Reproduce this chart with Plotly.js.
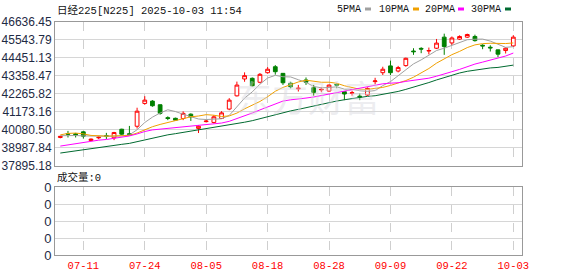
<!DOCTYPE html>
<html><head><meta charset="utf-8">
<script src="https://cdn.plot.ly/plotly-3.0.1.min.js"></script>
<style>html,body{margin:0;padding:0;background:#fff;} #chart{width:578px;height:276px;}</style>
</head><body><div id="chart"></div>
<script>
// ---- data ----
const dates = ['07-08','07-09','07-10','07-11','07-14','07-15','07-16','07-17','07-18','07-22','07-23','07-24','07-25','07-28','07-29','07-30','07-31',
 '08-01','08-04','08-05','08-06','08-07','08-08','08-12','08-13','08-14','08-15','08-18','08-19','08-20','08-21','08-22','08-25','08-26','08-27','08-28','08-29',
 '09-01','09-02','09-03','09-04','09-05','09-08','09-09','09-10','09-11','09-12','09-16','09-17','09-18','09-19','09-22','09-24','09-25','09-26','09-29','09-30',
 '10-01','10-02','10-03'];
const openV  = [39620,39860,39840,39960,39440,39600,39730,39600,40120,39850,40300,41680,41820,41600,40820,40780,40770,
 41030,40170,40580,40530,40770,41340,42140,43160,43200,42960,43540,43900,43500,42900,42560,43100,42630,42500,42430,42830,
 42390,42300,42120,42190,43000,43540,43950,43640,43970,44850,45010,44850,45020,45690,45340,45570,45690,45730,45200,45080,
 44920,44880,45160];
const highV  = [39720,40020,39900,40000,39560,39700,39900,39960,40150,40320,41420,42120,41880,41620,40900,40820,41200,
 41080,40360,40680,40970,41210,42000,43000,43560,43250,43520,43880,44000,43520,42990,42800,43250,42800,42670,42820,42900,
 42400,42450,42280,42650,43230,43900,44270,43950,44450,45020,45080,45060,45580,45900,45730,45800,45900,45840,45260,45200,
 44930,45070,45810];
const lowV   = [39570,39620,39620,39560,39400,39520,39530,39460,39780,39760,40160,41600,41480,41000,40670,40640,40670,
 40620,39890,40530,40470,40740,41270,42100,42990,42700,42900,43480,43420,42800,42590,42400,42800,42150,42360,42400,42600,
 41880,42150,41880,42150,42830,43400,43400,43560,43900,44620,44720,44650,44970,44620,45220,45520,45640,45420,44960,44820,
 44480,44700,45100];
const closeV = [39690,39820,39780,39700,39520,39630,39700,39920,39820,39800,41210,41880,41540,41080,40770,40670,41080,
 40870,40300,40610,40870,41110,41880,42790,43360,42750,43440,43750,43600,42930,42690,42600,42960,42350,42530,42790,42790,
 42250,42330,42080,42590,43040,43750,43540,43850,44410,44810,44970,44880,45330,45120,45640,45730,45850,45480,45160,45040,
 44660,45020,45690];
// closes before the first visible bar (needed for the moving averages at the left edge)
const priorCloses = [37722,38432,37965,37470,37446,37747,37554,37741,38088,38211,38421,38173,37834,38311,38537,38885,38489,
 38403,38354,38791,38942,39585,40151,40487,39986,39762,39786,39811,39588];
const volumeV = [0,0,0,0,0,0,0,0,0,0,0,0,0,0,0,0,0,0,0,0,0,0,0,0,0,0,0,0,0,0,0,0,0,0,0,0,0,0,0,0,0,0,0,0,0,0,0,0,0,0,0,0,0,0,0,0,0,0,0,0];
const priceTicks = [37895.18,38987.84,40080.50,41173.16,42265.82,43358.47,44451.13,45543.79,46636.45];
const volTicks = [0,1,2,3,4];
const volTickText = ['0','0','0','0','0'];
const xTickDates = ['07-11','07-24','08-05','08-18','08-28','09-09','09-22','10-03'];
const maNames = ['5PMA','10PMA','20PMA','30PMA'];
const maPeriods = [5,10,20,30];
const maColors = ['#a0a0a0','#f0a000','#ff00ff','#006a30'];

// ---- moving averages ----
const allCloses = priorCloses.concat(closeV);
function movingAverage(n){
  const off = priorCloses.length;
  return closeV.map((_, i) => {
    let s = 0;
    for (let k = off + i - n + 1; k <= off + i; k++) s += allCloses[k];
    return s / n;
  });
}

// ---- geometry helpers (pixel -> paper) ----
const W = 578, H = 276, L = 55, R = 522;
const px = p => (p - L) / (R - L);
const py = p => (H - p) / H;
const monoFont = 'Liberation Mono, Noto Sans CJK SC, monospace';

const traces = [];
maPeriods.forEach((n, j) => {
  traces.push({type:'scatter', mode:'lines', x:dates, y:movingAverage(n), xaxis:'x', yaxis:'y',
    line:{color:maColors[j], width:1}, hoverinfo:'skip', name:maNames[j]});
});
traces.push({type:'candlestick', x:dates, open:openV, high:highV, low:lowV, close:closeV, xaxis:'x', yaxis:'y',
  increasing:{line:{color:'#ff0000', width:1}, fillcolor:'#ffffff'},
  decreasing:{line:{color:'#008000', width:1}, fillcolor:'#008000'},
  whiskerwidth:0, hoverinfo:'skip', name:'K'});
traces.push({type:'bar', x:dates, y:volumeV, xaxis:'x2', yaxis:'y2', marker:{color:'#ff0000'}, hoverinfo:'skip'});

const xRange = [-0.69, 60.13];
const commonX = {type:'category', range:xRange, tickvals:xTickDates, showgrid:true, gridcolor:'#cfcfcf',
  griddash:'dash', gridwidth:1, showline:true, mirror:true, linecolor:'#999', linewidth:1, zeroline:false,
  ticks:'', fixedrange:true};

const annotations = [
  {text:'日经225[N225] 2025-10-03 11:54', xref:'paper', yref:'paper', x:px(55), y:py(11), xanchor:'left', yanchor:'middle',
   showarrow:false, font:{family:monoFont, size:10.5, color:'#111'}},
  {text:'成交量:0', xref:'paper', yref:'paper', x:px(55), y:py(177), xanchor:'left', yanchor:'middle',
   showarrow:false, font:{family:monoFont, size:10.5, color:'#111'}},
  {text:'东方财富', xref:'paper', yref:'paper', x:px(308), y:py(96), xanchor:'center', yanchor:'middle',
   showarrow:false, font:{family:'Noto Sans CJK SC', size:36, color:'rgba(215,215,222,0.45)'}}
];
const legendText = [335, 377, 422.5, 468.5];
const legendBox = [365, 413, 458, 505];
const shapes = [];
maNames.forEach((nm, j) => {
  annotations.push({text:nm, xref:'paper', yref:'paper', x:px(legendText[j]), y:py(9.5), xanchor:'left', yanchor:'middle',
    showarrow:false, font:{family:monoFont, size:10, color:'#111'}});
  shapes.push({type:'rect', xref:'paper', yref:'paper', x0:px(legendBox[j]), x1:px(legendBox[j]+6), y0:py(10.5), y1:py(7.5),
    fillcolor:maColors[j], line:{width:0}});
});

const layout = {
  width:W, height:H, margin:{l:L, r:W-R, t:0, b:0}, paper_bgcolor:'#fff', plot_bgcolor:'#fff',
  showlegend:false, hovermode:false, boxgap:0.3,
  xaxis: Object.assign({}, commonX, {anchor:'y', showticklabels:false, rangeslider:{visible:false}}),
  yaxis: {domain:[py(166), py(21.5)], range:[priceTicks[0], priceTicks[priceTicks.length-1]], tickvals:priceTicks,
    ticktext:priceTicks.map(v => v.toFixed(2)), tickfont:{family:'Liberation Sans, Arial', size:12, color:'#1e2a44'},
    gridcolor:'#d6d6d6', gridwidth:1, showline:true, mirror:true, linecolor:'#999', zeroline:false, ticks:'', fixedrange:true, anchor:'x'},
  xaxis2: Object.assign({}, commonX, {anchor:'y2', showticklabels:true, tickfont:{family:monoFont, size:10.5, color:'#ff0000'}, rangeslider:{visible:false}}),
  yaxis2: {domain:[py(255), py(187)], range:[0,4], tickvals:volTicks, ticktext:volTickText,
    tickfont:{family:'Liberation Sans, Arial', size:13, color:'#1e2a44'}, gridcolor:'#d6d6d6', showline:true, mirror:true,
    linecolor:'#999', zeroline:false, ticks:'', fixedrange:true, anchor:'x2'},
  annotations: annotations, shapes: shapes
};
Plotly.newPlot('chart', traces, layout, {staticPlot:true, displayModeBar:false});
</script></body></html>
